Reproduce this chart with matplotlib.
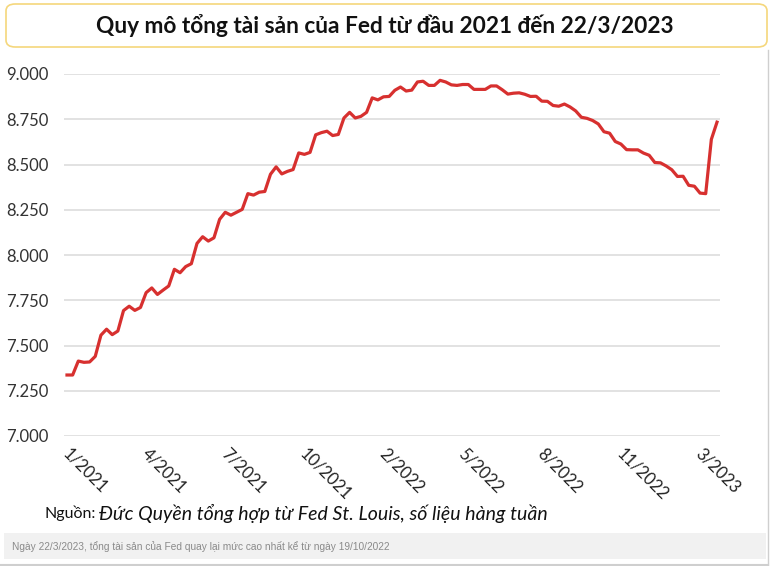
import matplotlib
matplotlib.use('Agg')
import matplotlib.pyplot as plt
import matplotlib.transforms as mtransforms
from matplotlib.patches import FancyBboxPatch, Rectangle
from matplotlib.lines import Line2D

plt.rcParams['font.family'] = ['Lato', 'DejaVu Sans']

# Tong tai san Fed (ty USD), so lieu hang tuan, 6/1/2021 -> 22/3/2023
assets = [
    7337, 7337, 7414, 7407, 7409, 7440, 7557, 7590, 7560, 7580, 7693, 7717, 7694,
    7710, 7792, 7818, 7782, 7806, 7829, 7921, 7902, 7936, 7952, 8064, 8101, 8077,
    8095, 8197, 8236, 8220, 8236, 8252, 8339, 8331, 8347, 8351, 8446, 8487, 8448,
    8462, 8472, 8564, 8556, 8567, 8664, 8676, 8684, 8660, 8666, 8757, 8788, 8757,
    8766, 8788, 8868, 8857, 8874, 8876, 8910, 8928, 8906, 8911, 8956, 8960, 8937,
    8937, 8965, 8956, 8940, 8937, 8942, 8942, 8915, 8915, 8915, 8934, 8934, 8913,
    8889, 8894, 8896, 8888, 8876, 8877, 8850, 8849, 8826, 8822, 8834, 8818, 8796,
    8761, 8755, 8743, 8724, 8681, 8673, 8627, 8613, 8582, 8581, 8581, 8563, 8551,
    8511, 8509, 8492, 8471, 8434, 8435, 8385, 8380, 8342, 8339, 8639, 8734,
]
tick_idx = [0, 14, 28, 42, 56, 70, 84, 98, 112]
tick_labels = ['1/2021', '4/2021', '7/2021', '10/2021', '2/2022',
               '5/2022', '8/2022', '11/2022', '3/2023']
y_ticks = [7000, 7250, 7500, 7750, 8000, 8250, 8500, 8750, 9000]

W, H = 773, 566
fig = plt.figure(figsize=(W / 100, H / 100), dpi=100)

def fx(px):
    return px / W

def fy(py):
    return 1 - py / H

# title box
box = FancyBboxPatch((fx(6), fy(47)), fx(761), (47 - 4) / H,
                     boxstyle='round,pad=0,rounding_size=0.012',
                     transform=fig.transFigure, facecolor='white',
                     edgecolor='#f5d77c', linewidth=1.2)
fig.patches.append(box)
fig.text(fx(385), fy(26), 'Quy mô tổng tài sản của Fed từ đầu 2021 đến 22/3/2023',
         ha='center', va='center', fontsize=16.3, fontweight='bold', color='#111111')

ax = fig.add_axes([fx(64), fy(436), fx(720 - 64), (436 - 74) / H])
x = list(range(len(assets)))
ax.plot(x, assets, color='#d7302f', linewidth=2.3, solid_joinstyle='round')
ax.set_xlim(-0.53, len(assets) - 1 + 0.53)
ax.set_ylim(7000, 9000)
ax.set_yticks(y_ticks)
ax.set_yticklabels([f'{v:,}'.replace(',', '.') for v in y_ticks], fontsize=12, color='#333333')
ax.set_xticks(tick_idx)
ax.set_xticklabels([])
ax.tick_params(axis='both', length=0)
ax.tick_params(axis='y', pad=11)
ax.grid(axis='y', color='#dddddd', linewidth=1.2)
ax.set_axisbelow(True)
for s in ax.spines.values():
    s.set_visible(False)

# rotated month labels
xlab_tr = ax.get_xaxis_transform() + mtransforms.ScaledTranslation(4 / 100, -9 / 100, fig.dpi_scale_trans)
for i, lab in zip(tick_idx, tick_labels):
    ax.text(i, 0, lab, transform=xlab_tr, rotation=-45, ha='left', va='top',
            rotation_mode='anchor', fontsize=12, color='#222222')

# source line
fig.text(fx(45), fy(513), 'Nguồn:', ha='left', va='center', fontsize=11.5, color='#111111')
fig.text(fx(99), fy(513), 'Đức Quyền tổng hợp từ Fed St. Louis, số liệu hàng tuần',
         ha='left', va='center', fontsize=14, style='italic', color='#111111')

# caption bar
fig.patches.append(Rectangle((fx(4), fy(559)), fx(762), 26 / H, transform=fig.transFigure,
                             facecolor='#f1f1f1', edgecolor='none'))
fig.text(fx(12), fy(547), 'Ngày 22/3/2023, tổng tài sản của Fed quay lại mức cao nhất kể từ ngày 19/10/2022',
         ha='left', va='center', fontsize=7.27, color='#8a8a8a', family=['Liberation Sans', 'DejaVu Sans'])

# frame lines
fig.lines.append(Line2D([fx(767.5), fx(767.5)], [fy(50), fy(565)], transform=fig.transFigure,
                        color='#cfcfcf', linewidth=1))
fig.lines.append(Line2D([0, fx(768)], [fy(564.5), fy(564.5)], transform=fig.transFigure,
                        color='#cfcfcf', linewidth=1.5))

fig.savefig('out.png', dpi=100)
